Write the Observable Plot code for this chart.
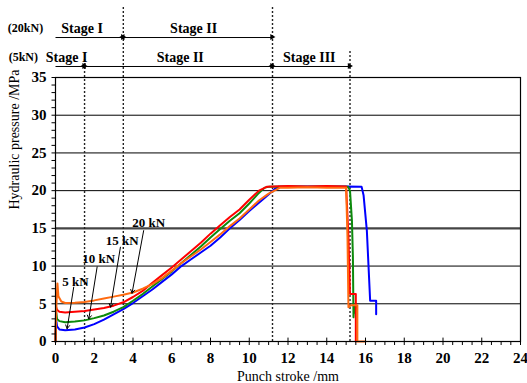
<!DOCTYPE html>
<html><head><meta charset="utf-8">
<script src="https://cdn.jsdelivr.net/npm/d3@7"></script>
<script src="https://cdn.jsdelivr.net/npm/@observablehq/plot@0.6"></script>
<style>body{margin:0;background:#fff} svg{display:block} svg text{font-family:"Liberation Serif","Times New Roman",serif}</style>
</head><body><div id="chart"></div>
<script>
// ---- data ----
const seriesNames = ["5 kN", "10 kN", "15 kN", "20 kN"];
const seriesColors = ["#0000ff", "#0c8a0c", "#ff0000", "#ff6a10"];

const x5 = [0,0.03,0.08,0.2,0.5,1.0,1.5,2.0,2.5,3.0,3.5,4.0,4.5,5.0,5.5,6.0,6.5,7.0,7.5,8.0,8.5,9.0,9.5,10.0,10.5,11.0,11.3,11.5,12,13,14,15,15.8,15.9,16.07,16.24,16.55,16.55];
const y5 = [0,3.0,2.0,1.6,1.5,1.6,1.85,2.3,2.9,3.6,4.3,5.1,6.0,6.9,7.9,8.9,10.0,10.9,11.8,12.7,13.8,15.0,16.1,17.3,18.4,19.5,20.2,20.5,20.5,20.55,20.5,20.55,20.5,19.4,14.7,5.4,5.4,3.6];

const x10 = [0,0.03,0.08,0.2,0.5,1.0,1.5,2.0,2.5,3.0,3.5,4.0,4.5,5.0,5.5,6.0,6.5,7.0,7.5,8.0,8.5,9.0,9.5,10.0,10.5,10.8,11,12,13,14,15.1,15.2,15.3,15.35,15.38,15.42,15.46,15.5,15.55];
const y10 = [0,4.0,3.0,2.7,2.55,2.65,2.8,3.1,3.45,3.95,4.55,5.4,6.3,7.3,8.3,9.3,10.4,11.5,12.6,13.8,14.9,16.0,17.0,18.3,19.7,20.4,20.5,20.55,20.5,20.55,20.5,20.0,16.0,11.2,3.2,4.6,3.8,4.7,4.5];

const x15 = [0,0.03,0.08,0.2,0.5,1.0,1.5,2.0,2.5,3.0,3.5,4.0,4.5,5.0,5.5,6.0,6.5,7.0,7.5,8.0,8.5,9.0,9.5,10.0,10.5,10.9,12,13,14,15.0,15.12,15.2,15.5,15.5];
const y15 = [0,4.6,4.2,3.95,3.85,3.95,4.05,4.25,4.45,4.75,5.2,5.9,6.7,7.8,8.8,9.8,10.9,12.0,13.1,14.3,15.4,16.5,17.5,18.8,20.0,20.5,20.6,20.55,20.6,20.55,13.9,6.3,6.3,0];

const x20 = [0,0.05,0.1,0.15,0.3,0.5,1.0,1.5,2.0,2.5,3.0,3.5,4.0,4.5,5.0,5.5,6.0,6.5,7.0,7.5,8.0,8.5,9.0,9.5,10.0,10.5,11.0,11.6,12,13,14,15.0,15.07,15.12,15.24,15.58,15.58,16.0];
const y20 = [0,5.0,7.7,6.0,5.3,5.1,5.15,5.25,5.45,5.7,5.95,6.2,6.5,7.0,7.6,8.4,9.4,10.4,11.3,12.2,13.2,14.2,15.3,16.3,17.5,18.7,19.6,20.4,20.4,20.45,20.4,20.4,13.9,4.55,4.8,4.8,0,0];

const xTicks = [0,2,4,6,8,10,12,14,16,18,20,22,24];
const yTicks = [0,5,10,15,20,25,30,35];

// stage boundaries (punch stroke, mm)
const stage20Bounds = [0, 3.5, 11.2];
const stage20Names = ["Stage I", "Stage II"];
const stage5Bounds = [0, 1.5, 11.2, 15.2];
const stage5Names = ["Stage I", "Stage II", "Stage III"];

// curve label annotations
const labelText = ["5 kN", "10 kN", "15 kN", "20 kN"];
const labelX = [1.03, 2.23, 3.44, 4.81];
const labelY = [7.9, 11.0, 13.4, 15.7];
const arrowFromX = [0.94, 2.15, 3.35, 4.55];
const arrowFromY = [7.2, 9.9, 12.5, 14.7];
const arrowToX = [0.6, 1.72, 2.84, 3.95];
const arrowToY = [1.7, 3.0, 4.55, 6.4];

// ---- build tables ----
const xs = [x5, x10, x15, x20], ys = [y5, y10, y15, y20];
const curves = [];
seriesNames.forEach((s, k) => xs[k].forEach((x, i) => curves.push({s, x, y: ys[k][i]})));

const font = "Liberation Serif, Times New Roman, serif";
const row20 = {text: 41.5, line: 40.3};
const row5 = {text: 37.65, line: 36.46};

function stageRows(bounds, names, row) {
  const segs = names.map((n, i) => ({n, x1: bounds[i], x2: bounds[i + 1], xm: (bounds[i] + bounds[i + 1]) / 2, y: row.line, yt: row.text}));
  const heads = [];
  segs.forEach((d, i) => {
    heads.push({x: d.x2, y: row.line, rot: 90, dx: -2.6});
    if (i > 0) heads.push({x: d.x1, y: row.line, rot: -90, dx: 2.6});
  });
  return {segs, heads};
}
const s20 = stageRows(stage20Bounds, stage20Names, row20);
const s5 = stageRows(stage5Bounds, stage5Names, row5);
s20.segs[0].xm = 1.37; s20.segs[1].xm = 7.13;
s5.segs[0].xm = 0.57; s5.segs[1].xm = 6.44; s5.segs[2].xm = 13.1;

const dashed = [
  {x: stage5Bounds[1], top: 37.5},
  {x: stage20Bounds[1], top: 44.3},
  {x: stage20Bounds[2], top: 44.3},
  {x: stage5Bounds[3], top: 38.6}
];

const labels = labelText.map((t, i) => ({t, x: labelX[i], y: labelY[i], x1: arrowFromX[i], y1: arrowFromY[i], x2: arrowToX[i], y2: arrowToY[i]}));

const chart = Plot.plot({
  width: 527, height: 383,
  marginLeft: 55, marginRight: 7, marginTop: 77, marginBottom: 42,
  style: {fontFamily: font, fontSize: "14px", color: "black", background: "white", overflow: "visible"},
  x: {domain: [0, 24]},
  y: {domain: [0, 35]},
  color: {domain: seriesNames, range: seriesColors},
  marks: [
    Plot.ruleY([5, 10, 20, 25, 30], {stroke: "black", strokeWidth: 1}),
    Plot.ruleY([15], {stroke: "#444", strokeWidth: 2.2}),
    Plot.ruleX(dashed, {x: "x", y1: 0, y2: "top", stroke: "#222", strokeWidth: 1.4, strokeDasharray: "2,2"}),
    Plot.line(curves, {x: "x", y: "y", z: "s", stroke: "s", strokeWidth: 2, curve: "linear"}),
    Plot.frame({stroke: "black", strokeWidth: 1.2}),
    Plot.axisY({ticks: yTicks, tickSize: 0, tickPadding: 9, fontSize: 15, fontWeight: "bold", fontFamily: font, label: null}),
    Plot.axisY({ticks: d3.range(0, 36, 1), tickSize: 3.5, text: null, label: null}),
    Plot.axisX({ticks: xTicks, tickSize: 0, tickPadding: 11, fontSize: 15, fontWeight: "bold", fontFamily: font, label: null}),
    Plot.axisX({ticks: d3.range(0, 24.01, 0.5), tickSize: 4, text: null, label: null}),
    Plot.ruleX(d3.range(2, 24, 2), {y1: 0, y2: 0.45, stroke: "black"}),
    Plot.text(["Punch stroke /mm"], {frameAnchor: "bottom", dy: 35, lineAnchor: "middle", fontSize: 14, fontFamily: font}),
    Plot.text(["Hydraulic pressure /MPa"], {frameAnchor: "left", dx: -41, rotate: -90, fontSize: 14, fontFamily: font}),
    Plot.arrow(labels, {x1: "x1", y1: "y1", x2: "x2", y2: "y2", bend: 0, headLength: 6, strokeWidth: 1, stroke: "black"}),
    Plot.text(labels, {x: "x", y: "y", text: "t", fontSize: 13, fontWeight: "bold", fontFamily: font}),
    Plot.link([...s20.segs, ...s5.segs], {x1: "x1", x2: "x2", y1: "y", y2: "y", stroke: "black", strokeWidth: 1}),
    Plot.dot([...s20.heads, ...s5.heads], {x: "x", y: "y", symbol: "triangle", rotate: "rot", dx: "dx", r: 2.2, fill: "black", stroke: "none"}),
    Plot.text([...s20.segs, ...s5.segs], {x: "xm", y: "yt", text: "n", fontSize: 14, fontWeight: "bold", fontFamily: font}),
    Plot.text(["(20kN)"], {x: -1.55, y: row20.text, fontSize: 12, fontWeight: "bold", fontFamily: font}),
    Plot.text(["(5kN)"], {x: -1.66, y: row5.text, fontSize: 12, fontWeight: "bold", fontFamily: font})
  ]
});
document.getElementById("chart").appendChild(chart);
</script>
</body></html>
